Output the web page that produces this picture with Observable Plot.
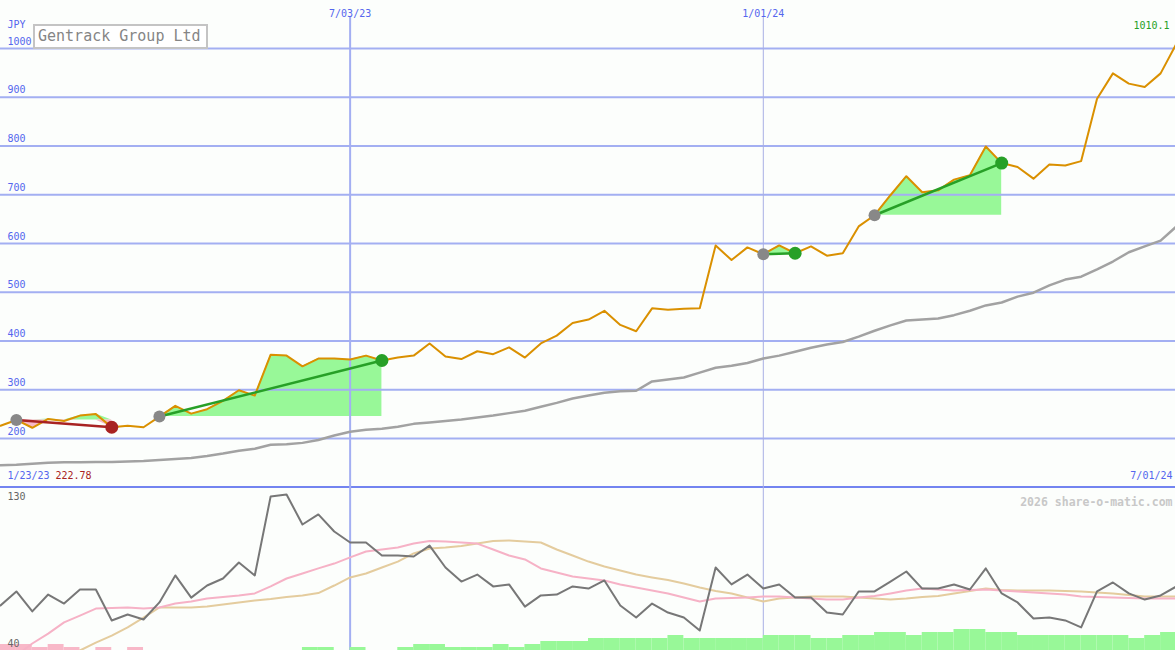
<!DOCTYPE html>
<html><head><meta charset="utf-8">
<script src="https://cdn.jsdelivr.net/npm/d3@7"></script>
<script src="https://cdn.jsdelivr.net/npm/@observablehq/plot@0.6"></script>
<style>
body{margin:0;background:#fcfefc;}
#wrap{position:relative;width:1175px;height:650px;overflow:hidden;background:#fcfefc;}
#toppanel{position:absolute;left:0;top:0;width:1175px;height:488px;}
#botpanel{position:absolute;left:0;top:488px;width:1175px;height:162px;}
#toppanel svg,#botpanel svg{position:absolute;left:0;top:0;}
#title{position:absolute;left:33px;top:24px;width:175px;height:25px;box-sizing:border-box;border:2px solid #c4c4c4;background:#fff;font:15px "DejaVu Sans Mono",monospace;color:#858585;padding-left:3px;line-height:20px;}
</style></head><body>
<div id="wrap"><div id="toppanel"></div><div id="botpanel"></div><div id="title">Gentrack Group Ltd</div></div>
<script>
const dates = ["2023-01-30","2023-02-06","2023-02-13","2023-02-20","2023-02-27","2023-03-06","2023-03-13","2023-03-20","2023-03-27","2023-04-03",
"2023-04-10","2023-04-17","2023-04-24","2023-05-01","2023-05-08","2023-05-15","2023-05-22","2023-05-29","2023-06-05","2023-06-12",
"2023-06-19","2023-06-26","2023-07-03","2023-07-10","2023-07-17","2023-07-24","2023-07-31","2023-08-07","2023-08-14","2023-08-21",
"2023-08-28","2023-09-04","2023-09-11","2023-09-18","2023-09-25","2023-10-02","2023-10-09","2023-10-16","2023-10-23","2023-10-30",
"2023-11-06","2023-11-13","2023-11-20","2023-11-27","2023-12-04","2023-12-11","2023-12-18","2023-12-25","2024-01-01","2024-01-08",
"2024-01-15","2024-01-22","2024-01-29","2024-02-05","2024-02-12","2024-02-19","2024-02-26","2024-03-04","2024-03-11","2024-03-18",
"2024-03-25","2024-04-01","2024-04-08","2024-04-15","2024-04-22","2024-04-29","2024-05-06","2024-05-13","2024-05-20","2024-05-27",
"2024-06-03","2024-06-10","2024-06-17","2024-06-24","2024-07-01"];

const price = [226,238,222,240,236,247,250,223,226,223,
 245,267,251,260,277,299,288,372,370,348,
 364,364,362,370,360,366,370,395,368,363,
 379,373,387,366,395,411,437,444,462,433,
 420,467,464,466,467,596,566,592,578,596,
 580,594,575,580,635,658,699,738,705,709,
 731,740,799,765,757,733,762,760,769,897,
 949,928,921,949,1010.1];

const movingAverage = [145,146,148,150,151,151,152,152,153,154,
 156,158,160,164,169,175,179,187,188,191,
 197,206,214,218,220,224,230,233,236,239,
 243,247,252,257,265,273,282,288,294,297,
 298,317,321,325,335,345,349,355,364,370,
 378,386,393,398,409,421,432,442,444,446,
 453,462,473,479,491,499,514,526,532,547,
 563,582,594,606,635];

const oscillator = [65.0,72.8,61.7,71.1,66.1,73.9,73.9,56.7,60.0,57.2,
 66.7,81.7,69.4,76.1,80.0,88.9,81.7,125.6,126.7,110.0,
 115.6,106.1,100.0,100.0,92.8,92.8,92.2,98.3,86.1,78.3,
 82.2,75.6,76.7,64.4,70.6,71.1,75.6,74.4,78.9,65.0,
 58.3,66.1,61.1,58.3,51.1,86.1,76.7,82.2,74.4,76.7,
 69.4,69.4,61.1,60.0,72.8,72.8,78.3,83.9,74.4,74.4,
 76.7,73.9,85.6,71.7,66.7,57.8,58.3,56.7,52.8,72.8,
 77.8,71.7,68.3,70.6,75.6];

const pinkAverage = [34.4,37.2,43.9,49.4,55.6,59.4,63.3,63.6,63.9,63.3,
 63.9,66.1,67.2,68.9,69.7,70.6,71.7,75.6,80.0,82.8,
 85.6,88.3,91.7,95.0,96.1,97.2,99.4,100.8,100.6,100.0,
 99.4,96.1,92.8,90.6,85.6,83.3,81.1,80.0,78.9,76.7,
 75.0,73.3,71.7,69.4,67.2,68.9,69.2,69.4,70.0,70.0,
 69.4,68.9,68.3,68.3,69.4,70.3,71.7,73.3,74.4,73.9,
 73.3,73.6,73.9,73.3,72.8,72.2,71.7,71.1,70.0,69.7,
 69.4,69.2,68.9,68.9,68.9];

const tanAverage = [17.8,22.2,26.7,31.1,35.6,40.0,44.4,48.3,52.8,58.3,
 63.9,63.9,63.9,64.4,65.6,66.7,67.8,68.6,69.7,70.6,
 71.9,76.1,80.6,82.8,86.1,89.4,93.9,96.7,97.2,98.1,
 99.4,100.8,101.1,100.6,100.0,96.1,92.8,89.4,86.7,84.4,
 82.2,80.6,79.2,77.2,75.0,73.1,71.7,69.4,67.2,68.9,
 69.4,70.0,70.0,70.0,69.4,68.9,68.3,68.9,69.7,70.3,
 71.7,73.1,74.4,73.6,73.3,73.3,73.3,73.1,72.8,72.2,
 71.7,70.8,70.0,70.0,70.0];

const volumeBars = [-2,-2,-1,-2,-1,0,-1,0,-1,0,
 0,0,0,0,0,0,0,0,0,1,
 1,0,1,0,0,1,2,2,1,1,
 1,2,1,2,3,3,3,4,4,4,
 4,4,5,4,4,4,4,4,5,5,
 5,4,4,5,5,6,6,5,6,6,
 7,7,6,6,5,5,5,5,5,5,
 5,4,5,6,6];

const signals = [
  {start:"2023-02-06", end:"2023-03-20", kind:"sell"},
  {start:"2023-04-10", end:"2023-07-17", kind:"buy"},
  {start:"2024-01-01", end:"2024-01-15", kind:"buy"},
  {start:"2024-02-19", end:"2024-04-15", kind:"buy"}
];

const priceTicks = [200,300,400,500,600,700,800,900,1000];
const panelFloor = [100];
const gridDates = ["2023-07-03","2024-01-01"];
const gridLabels = ["7/03/23","1/01/24"];
const oscTicks = [130,40];
const startLabel = "1/23/23", startValue = "222.78", endLabel = "7/01/24", lastLabel = "1010.1";
const currency = "JPY", watermark = "2026 share-o-matic.com";

const W = 1175;
const xScale = {type:"utc", domain:[new Date("2023-01-30"), new Date("2024-07-01")], range:[0, 1176], axis:null};
const font = {fontFamily:"DejaVu Sans Mono, monospace", fontSize:"10px", background:"transparent"};

const rows = dates.map((d,i)=>({date:new Date(d), price:price[i], ma:movingAverage[i], osc:oscillator[i], pink:pinkAverage[i], tan:tanAverage[i], vol:volumeBars[i]}));
const byDate = new Map(dates.map((d,i)=>[d, i]));
const sigRows = signals.map((s,k)=>{
  const a = byDate.get(s.start), b = byDate.get(s.end);
  return {k, kind:s.kind, startDate:rows[a].date, endDate:rows[b].date, startPrice:price[a], endPrice:price[b], a, b};
});
const fillRows = [];
for (const s of sigRows) for (let i=s.a;i<=s.b;i++) fillRows.push({k:s.k, date:rows[i].date, base:s.startPrice, price:price[i]});

const BLUE_GRID = "#a3aff2", LABEL = "#5566ee", GREEN = "#27a027", RED = "#a82222";

const topPlot = Plot.plot({
  width:W, height:488, margin:0, style:font,
  x:xScale,
  y:{domain:[97.4,1098.5], axis:null},
  marks:[
    Plot.areaY(fillRows, {x:"date", y1:"base", y2:d=>Math.max(d.price,d.base), z:"k", fill:"#98f898"}),
    Plot.areaY(fillRows, {x:"date", y1:d=>Math.min(d.price,d.base), y2:"base", z:"k", fill:"#f8b8c8"}),
    Plot.ruleY(priceTicks, {stroke:BLUE_GRID, strokeWidth:2}),
    Plot.ruleY(panelFloor, {stroke:"#7384f0", strokeWidth:2.5}),
    Plot.ruleX([gridDates[0]], {x:d=>new Date(d), stroke:BLUE_GRID, strokeWidth:2, insetTop:16}),
    Plot.ruleX([gridDates[1]], {x:d=>new Date(d), stroke:"#a8b0e4", strokeWidth:1, insetTop:16}),
    Plot.line(rows, {x:"date", y:"ma", stroke:"#a2a2a2", strokeWidth:2.5}),
    Plot.line(rows, {x:"date", y:"price", stroke:"#da9000", strokeWidth:2}),
    Plot.link(sigRows.filter(d=>d.kind==="sell"), {x1:"startDate", y1:"startPrice", x2:"endDate", y2:"endPrice", stroke:RED, strokeWidth:2.5}),
    Plot.link(sigRows.filter(d=>d.kind==="buy"), {x1:"startDate", y1:"startPrice", x2:"endDate", y2:"endPrice", stroke:GREEN, strokeWidth:2.5}),
    Plot.dot(sigRows, {x:"startDate", y:"startPrice", r:6, fill:"#888888"}),
    Plot.dot(sigRows.filter(d=>d.kind==="sell"), {x:"endDate", y:"endPrice", r:6.5, fill:RED}),
    Plot.dot(sigRows.filter(d=>d.kind==="buy"), {x:"endDate", y:"endPrice", r:6.5, fill:GREEN}),
    Plot.text(priceTicks, {y:d=>d, text:d=>String(d), frameAnchor:"left", dx:7, dy:-7, textAnchor:"start", fill:LABEL}),
    Plot.text([currency], {text:d=>d, frameAnchor:"top-left", dx:7, dy:20, textAnchor:"start", fill:LABEL}),
    Plot.text(gridDates, {x:d=>new Date(d), text:(d,i)=>gridLabels[i], frameAnchor:"top", dy:9, fill:LABEL}),
    Plot.text([rows[rows.length-1]], {x:"date", text:()=>lastLabel, frameAnchor:"top", dy:21, dx:-7, textAnchor:"end", fill:GREEN}),
    Plot.text([startLabel], {text:d=>d, frameAnchor:"bottom-left", dx:7, dy:-10, textAnchor:"start", fill:LABEL}),
    Plot.text([startValue], {text:d=>d, frameAnchor:"bottom-left", dx:55, dy:-10, textAnchor:"start", fill:RED}),
    Plot.text([endLabel], {text:d=>d, frameAnchor:"bottom-right", dx:-3, dy:-10, textAnchor:"end", fill:LABEL})
  ]
});
document.getElementById("toppanel").appendChild(topPlot);

const barPlot = Plot.plot({
  width:W, height:162, margin:0, style:font,
  x:xScale,
  y:{domain:[0,54], axis:null},
  marks:[
    Plot.ruleX([gridDates[0]], {x:d=>new Date(d), stroke:BLUE_GRID, strokeWidth:2}),
    Plot.ruleX([gridDates[1]], {x:d=>new Date(d), stroke:"#a8b0e4", strokeWidth:1}),
    Plot.rectY(rows.filter(r=>r.vol!==0), {x1:"date", x2:r=>d3.utcMonday.offset(r.date,1), y:r=>Math.abs(r.vol), fill:r=>r.vol>0?"#98f898":"#f8b8c8", inset:0})
  ]
});
document.getElementById("botpanel").appendChild(barPlot);

const oscPlot = Plot.plot({
  width:W, height:162, margin:0, style:font,
  x:xScale,
  y:{domain:[40,130], axis:null},
  marks:[
    Plot.line(rows, {x:"date", y:"tan", stroke:"#e4cc9e", strokeWidth:2, clip:true}),
    Plot.line(rows, {x:"date", y:"pink", stroke:"#f6b2c6", strokeWidth:2, clip:true}),
    Plot.line(rows, {x:"date", y:"osc", stroke:"#777777", strokeWidth:2, clip:true}),
    Plot.text([oscTicks[0]], {y:d=>d, text:d=>String(d), frameAnchor:"left", dx:7, dy:8, textAnchor:"start", fill:"#666"}),
    Plot.text([oscTicks[1]], {y:d=>d, text:d=>String(d), frameAnchor:"left", dx:7, dy:-7, textAnchor:"start", fill:"#666"}),
    Plot.text([watermark], {text:d=>d, frameAnchor:"top-right", dx:-3, dy:9, textAnchor:"end", fill:"#c8c8c8", fontWeight:"bold", fontSize:11.5})
  ]
});
document.getElementById("botpanel").appendChild(oscPlot);
</script>
</body></html>
